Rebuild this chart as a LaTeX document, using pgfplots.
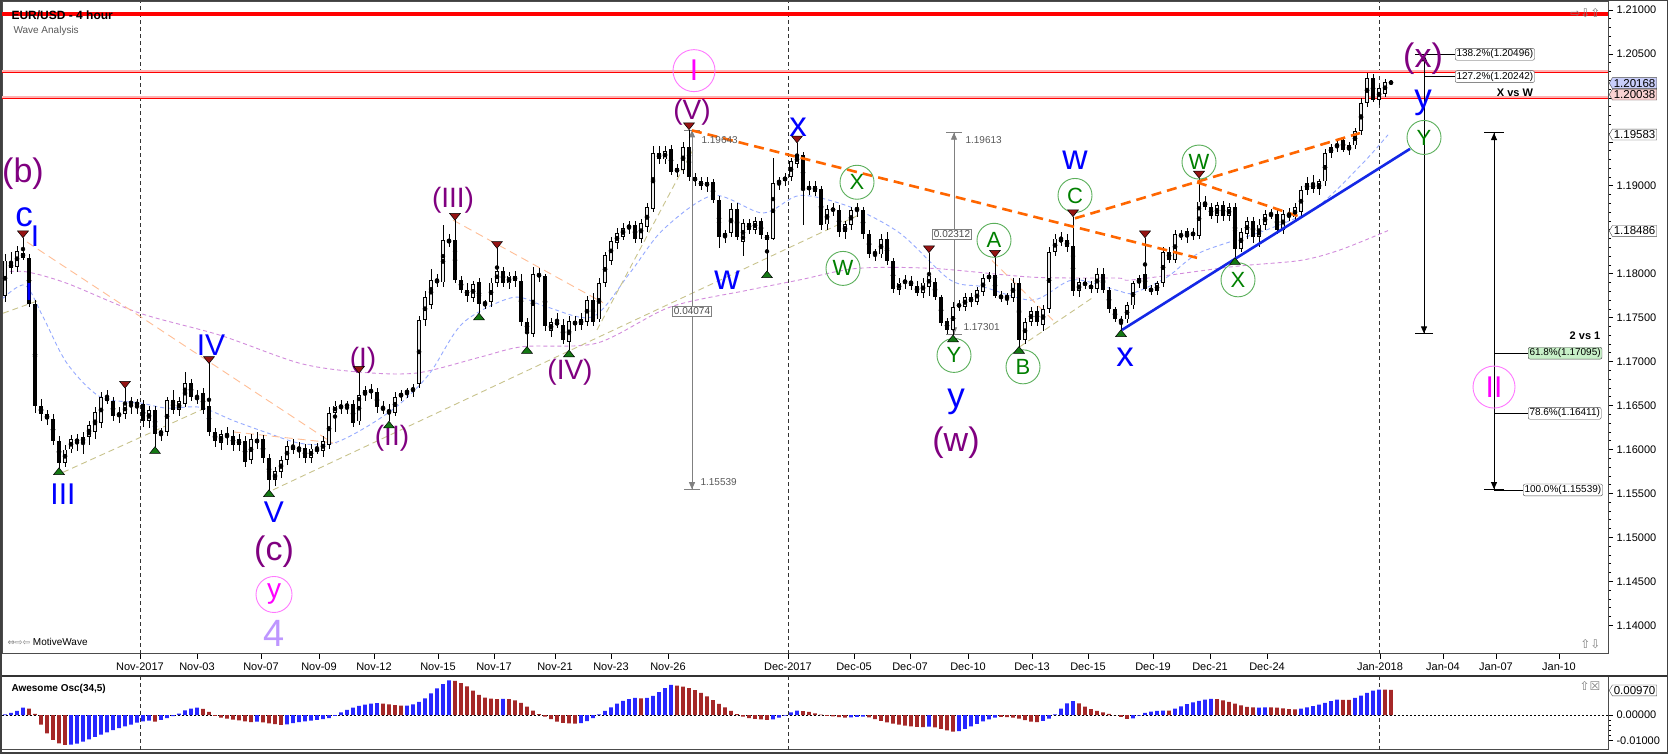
\documentclass[border=0pt]{standalone}
\usepackage{fontspec}
\setmainfont{Liberation Sans}
\newfontfamily\dejavu{DejaVu Sans}
\usepackage{pgfplots}
\pgfplotsset{compat=1.18}
\usepackage{pgfplotstable}
\usetikzlibrary{arrows.meta,shapes.symbols}

\definecolor{wblue}{RGB}{0,0,255}
\definecolor{wpurple}{RGB}{128,0,128}
\definecolor{wmag}{RGB}{255,0,255}
\definecolor{wmagc}{RGB}{255,120,255}
\definecolor{wgreen}{RGB}{0,128,0}
\definecolor{wgreenc}{RGB}{90,175,90}
\definecolor{wlav}{RGB}{190,150,255}
\definecolor{orthick}{RGB}{255,102,0}
\definecolor{orlight}{RGB}{255,190,150}
\definecolor{khaki}{RGB}{200,195,140}
\definecolor{mablue}{RGB}{150,170,255}
\definecolor{mapurple}{RGB}{210,140,220}
\definecolor{aoblue}{RGB}{40,40,255}
\definecolor{aored}{RGB}{165,40,40}
\definecolor{mred}{RGB}{150,20,20}
\definecolor{mgreen}{RGB}{20,120,20}
\definecolor{tblue}{RGB}{20,40,230}
\definecolor{upfill}{RGB}{235,235,235}
\definecolor{mgray}{RGB}{128,128,128}

\newcommand{\fs}[1]{\fontsize{#1}{#1}\selectfont}

% 4 hour candles: x (pixel position), open, high, low, close
\pgfplotstableread{
x o h l c
5 1.1775 1.1822 1.1768 1.1815
11 1.1812 1.1825 1.1800 1.1806
17 1.1808 1.1832 1.1802 1.1826
23 1.1824 1.1841 1.1815 1.1818
29 1.1818 1.1822 1.1762 1.1766
35 1.1766 1.1770 1.1642 1.1650
41 1.1650 1.1658 1.1632 1.1640
47 1.1640 1.1645 1.1628 1.1635
53 1.1635 1.1640 1.1605 1.1610
59 1.1610 1.1615 1.1579 1.1585
65 1.1585 1.1605 1.1580 1.1600
71 1.1600 1.1616 1.1596 1.1612
77 1.1612 1.1618 1.1598 1.1608
83 1.1608 1.1620 1.1595 1.1614
89 1.1614 1.1632 1.1605 1.1628
95 1.1620 1.1648 1.1612 1.1643
101 1.1630 1.1665 1.1625 1.1660
107 1.1660 1.1668 1.1652 1.1655
113 1.1655 1.1660 1.1632 1.1638
119 1.1638 1.1648 1.1630 1.1642
125 1.1640 1.1670 1.1635 1.1652
131 1.1652 1.1660 1.1640 1.1654
137 1.1654 1.1658 1.1640 1.1650
143 1.1652 1.1656 1.1626 1.1632
149 1.1632 1.1650 1.1625 1.1645
155 1.1645 1.1650 1.1603 1.1618
161 1.1618 1.1625 1.1610 1.1621
167 1.1620 1.1660 1.1615 1.1656
173 1.1656 1.1668 1.1640 1.1645
179 1.1645 1.1660 1.1638 1.1655
185 1.1652 1.1688 1.1648 1.1676
191 1.1676 1.1680 1.1655 1.1660
197 1.1660 1.1668 1.1652 1.1657
203 1.1664 1.1670 1.1640 1.1645
209 1.1650 1.1698 1.1615 1.1620
215 1.1620 1.1625 1.1603 1.1610
221 1.1608 1.1622 1.1600 1.1618
227 1.1618 1.1625 1.1605 1.1615
233 1.1615 1.1622 1.1598 1.1605
239 1.1605 1.1618 1.1598 1.1612
245 1.1610 1.1615 1.1580 1.1586
251 1.1588 1.1618 1.1583 1.1612
257 1.1612 1.1620 1.1600 1.1607
263 1.1612 1.1616 1.1585 1.1590
269 1.1590 1.1595 1.1554 1.1565
275 1.1565 1.1580 1.1558 1.1575
281 1.1575 1.1593 1.1568 1.1588
287 1.1588 1.1610 1.1582 1.1604
293 1.1604 1.1612 1.1595 1.1600
299 1.1600 1.1608 1.1590 1.1602
305 1.1602 1.1606 1.1585 1.1590
311 1.1590 1.1606 1.1585 1.1601
317 1.1601 1.1608 1.1595 1.1598
323 1.1598 1.1615 1.1592 1.1610
329 1.1605 1.1648 1.1600 1.1642
335 1.1642 1.1655 1.1620 1.1650
341 1.1650 1.1656 1.1640 1.1648
347 1.1648 1.1655 1.1640 1.1652
353 1.1652 1.1656 1.1625 1.1630
359 1.1632 1.1687 1.1628 1.1662
365 1.1662 1.1672 1.1655 1.1668
371 1.1668 1.1675 1.1658 1.1665
377 1.1665 1.1670 1.1642 1.1648
383 1.1648 1.1655 1.1640 1.1645
389 1.1645 1.1652 1.1632 1.1642
395 1.1642 1.1665 1.1638 1.1660
401 1.1660 1.1668 1.1655 1.1664
407 1.1664 1.1670 1.1658 1.1667
413 1.1667 1.1675 1.1660 1.1670
419 1.1675 1.1752 1.1670 1.1747
425 1.1747 1.1780 1.1740 1.1773
431 1.1765 1.1805 1.1760 1.1793
437 1.1793 1.1800 1.1785 1.1790
443 1.1790 1.1855 1.1785 1.1838
449 1.1838 1.1845 1.1830 1.1836
455 1.1838 1.1861 1.1790 1.1793
461 1.1793 1.1798 1.1778 1.1782
467 1.1782 1.1790 1.1768 1.1775
473 1.1772 1.1792 1.1768 1.1788
479 1.1790 1.1795 1.1755 1.1765
485 1.1765 1.1770 1.1760 1.1768
491 1.1768 1.1795 1.1762 1.1790
497 1.1790 1.1829 1.1785 1.1803
503 1.1803 1.1808 1.1785 1.1789
509 1.1789 1.1802 1.1783 1.1798
515 1.1798 1.1803 1.1785 1.1792
521 1.1792 1.1800 1.1740 1.1745
527 1.1745 1.1750 1.1717 1.1735
533 1.1732 1.1808 1.1728 1.1800
539 1.1800 1.1806 1.1790 1.1797
545 1.1797 1.1800 1.1735 1.1740
551 1.1735 1.1750 1.1728 1.1745
557 1.1745 1.1755 1.1738 1.1742
563 1.1742 1.1748 1.1720 1.1724
569 1.1722 1.1752 1.1713 1.1746
575 1.1746 1.1752 1.1735 1.1742
581 1.1742 1.1755 1.1736 1.1748
587 1.1745 1.1775 1.1740 1.1770
593 1.1770 1.1778 1.1740 1.1745
599 1.1748 1.1795 1.1745 1.1789
605 1.1789 1.1825 1.1785 1.1821
611 1.1815 1.1842 1.1810 1.1837
617 1.1835 1.1852 1.1828 1.1846
623 1.1842 1.1858 1.1838 1.1852
629 1.1852 1.1860 1.1845 1.1855
635 1.1855 1.1860 1.1835 1.1840
641 1.1840 1.1862 1.1835 1.1858
647 1.1853 1.1880 1.1848 1.1876
653 1.1874 1.1945 1.1870 1.1937
659 1.1937 1.1945 1.1925 1.1930
665 1.1930 1.1945 1.1925 1.1940
671 1.1942 1.1946 1.1912 1.1916
677 1.1916 1.1925 1.1910 1.1920
683 1.1918 1.1950 1.1914 1.1944
689 1.1944 1.1964 1.1905 1.1910
695 1.1910 1.1915 1.1900 1.1905
701 1.1905 1.1910 1.1895 1.1900
707 1.1900 1.1910 1.1893 1.1904
713 1.1904 1.1908 1.1880 1.1884
719 1.1884 1.1888 1.1829 1.1842
725 1.1842 1.1850 1.1835 1.1846
731 1.1846 1.1880 1.1842 1.1874
737 1.1874 1.1880 1.1838 1.1842
743 1.1836 1.1862 1.1820 1.1858
749 1.1858 1.1862 1.1845 1.1850
755 1.1850 1.1865 1.1845 1.1860
761 1.1860 1.1863 1.1840 1.1844
767 1.1844 1.1848 1.1803 1.1838
773 1.1840 1.1932 1.1838 1.1903
779 1.1903 1.1910 1.1895 1.1906
785 1.1906 1.1915 1.1900 1.1910
791 1.1910 1.1932 1.1905 1.1928
797 1.1925 1.1949 1.1920 1.1935
803 1.1935 1.1938 1.1855 1.1895
809 1.1895 1.1905 1.1890 1.1900
815 1.1900 1.1905 1.1888 1.1893
821 1.1897 1.1900 1.1850 1.1856
827 1.1856 1.1878 1.1850 1.1874
833 1.1874 1.1880 1.1866 1.1872
839 1.1872 1.1878 1.1842 1.1847
845 1.1847 1.1860 1.1840 1.1856
851 1.1856 1.1876 1.1850 1.1872
857 1.1872 1.1880 1.1865 1.1875
863 1.1872 1.1876 1.1840 1.1845
869 1.1845 1.1850 1.1818 1.1822
875 1.1822 1.1828 1.1815 1.1825
881 1.1822 1.1845 1.1818 1.1839
887 1.1839 1.1848 1.1810 1.1814
893 1.1814 1.1818 1.1778 1.1782
899 1.1782 1.1795 1.1776 1.1790
905 1.1790 1.1798 1.1783 1.1792
911 1.1792 1.1798 1.1782 1.1786
917 1.1786 1.1792 1.1775 1.1778
923 1.1778 1.1795 1.1772 1.1790
929 1.1785 1.1824 1.1775 1.1798
935 1.1790 1.1795 1.1770 1.1773
941 1.1773 1.1776 1.1740 1.1744
947 1.1746 1.1750 1.1732 1.1736
953 1.1736 1.1768 1.1730 1.1762
959 1.1762 1.1770 1.1758 1.1766
965 1.1762 1.1778 1.1758 1.1773
971 1.1773 1.1778 1.1762 1.1768
977 1.1768 1.1785 1.1765 1.1781
983 1.1779 1.1800 1.1775 1.1795
989 1.1795 1.1802 1.1790 1.1798
995 1.1798 1.1819 1.1772 1.1775
1001 1.1775 1.1780 1.1768 1.1772
1007 1.1772 1.1778 1.1765 1.1775
1013 1.1772 1.1795 1.1768 1.1790
1019 1.1790 1.1795 1.1717 1.1725
1025 1.1725 1.1750 1.1720 1.1745
1031 1.1745 1.1762 1.1740 1.1758
1037 1.1758 1.1763 1.1740 1.1745
1043 1.1742 1.1765 1.1735 1.1760
1049 1.1760 1.1830 1.1755 1.1825
1055 1.1825 1.1845 1.1820 1.1840
1061 1.1840 1.1848 1.1832 1.1836
1067 1.1838 1.1845 1.1825 1.1830
1073 1.1832 1.1865 1.1775 1.1780
1079 1.1780 1.1795 1.1774 1.1790
1085 1.1790 1.1795 1.1782 1.1787
1091 1.1787 1.1792 1.1778 1.1783
1097 1.1783 1.1806 1.1778 1.1800
1103 1.1800 1.1806 1.1778 1.1781
1109 1.1781 1.1785 1.1755 1.1760
1115 1.1760 1.1762 1.1745 1.1748
1121 1.1745 1.1752 1.1736 1.1748
1127 1.1748 1.1768 1.1744 1.1764
1133 1.1764 1.1792 1.1760 1.1789
1139 1.1789 1.1798 1.1784 1.1795
1145 1.1800 1.1841 1.1780 1.1783
1151 1.1783 1.1787 1.1776 1.1780
1157 1.1780 1.1792 1.1776 1.1789
1163 1.1789 1.1830 1.1785 1.1825
1169 1.1825 1.1830 1.1812 1.1816
1175 1.1816 1.1850 1.1812 1.1845
1181 1.1845 1.1850 1.1838 1.1842
1187 1.1842 1.1852 1.1835 1.1848
1193 1.1848 1.1852 1.1838 1.1843
1199 1.1843 1.1909 1.1840 1.1882
1205 1.1882 1.1888 1.1872 1.1876
1211 1.1876 1.1880 1.1862 1.1866
1217 1.1866 1.1882 1.1858 1.1878
1223 1.1878 1.1883 1.1860 1.1866
1229 1.1866 1.1880 1.1860 1.1876
1235 1.1876 1.1880 1.1818 1.1828
1241 1.1828 1.1852 1.1825 1.1847
1247 1.1845 1.1865 1.1840 1.1860
1253 1.1860 1.1865 1.1835 1.1842
1259 1.1842 1.1862 1.1830 1.1856
1265 1.1856 1.1872 1.1850 1.1868
1271 1.1868 1.1874 1.1862 1.1866
1277 1.1868 1.1872 1.1845 1.1850
1283 1.1850 1.1872 1.1845 1.1868
1289 1.1868 1.1875 1.1860 1.1864
1295 1.1864 1.1880 1.1860 1.1876
1301 1.1870 1.1900 1.1865 1.1895
1307 1.1895 1.1910 1.1890 1.1903
1313 1.1903 1.1912 1.1892 1.1896
1319 1.1896 1.1908 1.1890 1.1905
1325 1.1905 1.1942 1.1900 1.1937
1331 1.1937 1.1948 1.1932 1.1944
1337 1.1944 1.1952 1.1938 1.1948
1343 1.1952 1.1956 1.1938 1.1941
1349 1.1941 1.1950 1.1935 1.1946
1355 1.1946 1.1966 1.1942 1.1962
1361 1.1962 1.2000 1.1958 1.1994
1367 1.1994 1.2028 1.1990 1.2023
1373 1.2023 1.2027 1.1995 1.1998
1379 1.1998 1.2015 1.1992 1.2011
1385 1.2005 1.2022 1.2001 1.2018
1391 1.2018 1.2020 1.2015 1.2017
}\candles

\tikzset{
  wlab/.style={inner sep=0pt},
  gcirc/.style={circle, draw=wgreenc, line width=0.9pt, minimum size=34pt, inner sep=0pt, text=wgreen, font=\fs{22}},
  mcirc/.style={circle, draw=wmagc, line width=0.9pt, minimum size=42pt, inner sep=0pt, text=wmag, font=\fs{30}},
  fibbox/.style={draw=gray!60!black, fill=white, rounded corners=2pt, font=\fs{10}, inner sep=1.3pt, anchor=west},
  pricebox/.style={shape=signal, signal to=west, signal pointer angle=120, draw=gray!60!black, fill=white, font=\fs{11.5}, inner sep=1.4pt, anchor=west},
  mbox/.style={draw=mgray, fill=white, font=\fs{10}, text=gray!60!black, inner sep=1.5pt},
}

\begin{document}
\begin{tikzpicture}[x=1pt,y=1pt]
\useasboundingbox (0,0) rectangle (1668,754);
\fill[white] (0,0) rectangle (1668,754);

% ---------------- price panel ----------------
\begin{axis}[
  at={(2pt,100pt)}, anchor=south west, scale only axis,
  width=1606pt, height=652pt,
  xmin=2, xmax=1608, ymin=1.13673, ymax=1.21091,
  clip=false,
  axis line style={draw=gray!60!black, line width=1pt},
  tick align=outside, tick style={black, line width=0.6pt},
  major tick length=5pt, minor tick length=3pt,
  xtick pos=bottom,
  xtick={140,197,261,319,374,438,494,555,611,668,788,854,910,968,1032,1088,1153,1210,1267,1380,1443,1496,1559},
  xticklabels={Nov-2017,Nov-03,Nov-07,Nov-09,Nov-12,Nov-15,Nov-17,Nov-21,Nov-23,Nov-26,Dec-2017,Dec-05,Dec-07,Dec-10,Dec-13,Dec-15,Dec-19,Dec-21,Dec-24,Jan-2018,Jan-04,Jan-07,Jan-10},
  x tick label style={font=\fs{11}},
  ytick pos=right, yticklabel pos=right,
  ytick={1.14,1.145,1.15,1.155,1.16,1.165,1.17,1.175,1.18,1.185,1.19,1.195,1.2,1.205,1.21},
  yticklabels={1.14000,1.14500,1.15000,1.15500,1.16000,1.16500,1.17000,1.17500,1.18000,,1.19000,,,1.20500,1.21000},
  minor y tick num=4,
  y tick label style={font=\fs{11}},
  scaled y ticks=false,
]
% month separators
\addplot[gray!40!black, line width=0.8pt, dash pattern=on 4pt off 3pt] coordinates {(140,1.13673) (140,1.21091)};
\addplot[gray!40!black, line width=0.8pt, dash pattern=on 4pt off 3pt] coordinates {(788,1.13673) (788,1.21091)};
\addplot[gray!40!black, line width=0.8pt, dash pattern=on 4pt off 3pt] coordinates {(1379,1.13673) (1379,1.21091)};

% horizontal levels
\addplot[red, line width=4pt] coordinates {(2,1.2095) (1608,1.2095)};
\addplot[red!30, line width=3pt] coordinates {(2,1.2030) (1608,1.2030)};
\addplot[red, line width=1pt] coordinates {(2,1.2029) (1608,1.2029)};
\addplot[red!30, line width=3pt] coordinates {(2,1.2000) (1608,1.2000)};
\addplot[red, line width=1pt] coordinates {(2,1.1999) (1608,1.1999)};

% moving averages
\addplot[mapurple, line width=0.9pt, dash pattern=on 4pt off 3pt, smooth] coordinates {
(3,1.1802) (27,1.1802) (67,1.1789) (140,1.1755) (220,1.1730) (300,1.1698) (360,1.1688)
(417,1.1687) (480,1.1705) (523,1.1717) (597,1.1721) (670,1.1762) (747,1.1781) (800,1.1793)
(857,1.1806) (933,1.1806) (1033,1.1796) (1117,1.1795) (1133,1.1793) (1233,1.1808)
(1300,1.1815) (1340,1.1827) (1388,1.1849)};
\addplot[mablue, line width=0.9pt, dash pattern=on 4pt off 3pt, smooth] coordinates {
(3,1.1772) (25,1.1787) (43,1.1751) (67,1.1698) (100,1.1660) (140,1.1653) (167,1.1647)
(200,1.1648) (233,1.1633) (267,1.1619) (300,1.1607) (333,1.1607) (367,1.1626) (400,1.1652)
(430,1.1687) (463,1.1744) (513,1.1773) (547,1.1762) (593,1.1751) (630,1.1801) (663,1.1850)
(713,1.1889) (763,1.1869) (800,1.1889) (850,1.1876) (900,1.1846) (950,1.1793) (983,1.1785)
(1033,1.1770) (1073,1.1793) (1117,1.1781) (1133,1.1778) (1167,1.1796) (1200,1.1824)
(1267,1.1850) (1317,1.1876) (1363,1.1926) (1388,1.1958)};

% thin trend lines
\addplot[khaki, line width=0.9pt, dash pattern=on 6pt off 4pt] coordinates {(3,1.1755) (40,1.1770)};
\addplot[khaki, line width=0.9pt, dash pattern=on 6pt off 4pt] coordinates {(63,1.1574) (207,1.1648)};
\addplot[khaki, line width=0.9pt, dash pattern=on 6pt off 4pt] coordinates {(273,1.1554) (863,1.1869)};
\addplot[khaki, line width=0.9pt, dash pattern=on 6pt off 4pt] coordinates {(597,1.1736) (693,1.1941)};
\addplot[khaki, line width=0.9pt, dash pattern=on 6pt off 4pt] coordinates {(1020,1.1717) (1093,1.1773)};
\addplot[orlight, line width=0.9pt, dash pattern=on 8pt off 5pt] coordinates {(27,1.1836) (333,1.1607)};
\addplot[orlight, line width=0.9pt, dash pattern=on 8pt off 5pt] coordinates {(233,1.1620) (337,1.1607)};
\addplot[orlight, line width=0.9pt, dash pattern=on 8pt off 5pt] coordinates {(453,1.1861) (603,1.1767)};
\addplot[orlight, line width=0.9pt, dash pattern=on 8pt off 5pt] coordinates {(992,1.1815) (1053,1.1747)};

% measuring tools
\addplot[mgray, line width=0.8pt, arrows={{Bar[width=16pt]Triangle[length=7pt,width=6pt]}-{Triangle[length=7pt,width=6pt]Bar[width=16pt]}}] coordinates {(692,1.1964) (692,1.15539)};
\addplot[mgray, line width=0.8pt, arrows={{Bar[width=16pt]Triangle[length=7pt,width=6pt]}-{Triangle[length=7pt,width=6pt]Bar[width=16pt]}}] coordinates {(954,1.19613) (954,1.17301)};

% candles: wicks, bodies, hollow up bodies
\addplot[only marks, mark=none, error bars/.cd, y dir=both, y explicit, error mark=none,
  error bar style={line width=0.7pt, black, solid}]
  table[x=x, y expr={(\thisrow{h}+\thisrow{l})/2}, y error expr={(\thisrow{h}-\thisrow{l})/2}] {\candles};
\addplot[only marks, mark=none, error bars/.cd, y dir=both, y explicit, error mark=none,
  error bar style={line width=3.4pt, black, solid}]
  table[x=x, y expr={(\thisrow{o}+\thisrow{c})/2}, y error expr={abs(\thisrow{c}-\thisrow{o})/2}] {\candles};
\addplot[only marks, mark=none, error bars/.cd, y dir=both, y explicit, error mark=none,
  error bar style={line width=1.6pt, upfill, solid}]
  table[x=x, y expr={(\thisrow{o}+\thisrow{c})/2}, y error expr={max(0,(\thisrow{c}>\thisrow{o})*((\thisrow{c}-\thisrow{o})/2-0.0001))}] {\candles};

% bold channel lines
\addplot[orthick, line width=2.6pt, dash pattern=on 10pt off 6pt] coordinates {(692,1.1963) (1197,1.1818)};
\addplot[orthick, line width=2.6pt, dash pattern=on 10pt off 6pt] coordinates {(1075,1.1863) (1360,1.1960)};
\addplot[orthick, line width=2.6pt, dash pattern=on 10pt off 6pt] coordinates {(1197,1.1904) (1302,1.1864)};
\addplot[tblue, line width=2.6pt] coordinates {(1122,1.1736) (1410,1.1942)};

% swing markers
\addplot[only marks, mark=triangle*, mark size=4.5pt, mark options={fill=mred, draw=black, line width=0.5pt, rotate=180, xscale=1.4}] coordinates {
(23,1.1846) (125,1.1675) (209,1.1703) (359,1.1692) (455,1.1866) (497,1.1834) (689,1.1969)
(797,1.1954) (929,1.1829) (995,1.1824) (1073,1.1870) (1145,1.1846) (1199,1.1914)};
\addplot[only marks, mark=triangle*, mark size=4.5pt, mark options={fill=mgreen, draw=black, line width=0.5pt, xscale=1.4}] coordinates {
(59,1.1574) (155,1.1598) (269,1.1549) (389,1.1627) (479,1.1750) (527,1.1712) (569,1.1708)
(767,1.1798) (953,1.1725) (1019,1.1712) (1121,1.1731) (1235,1.1813)};

% fib projections on the right
\addplot[black, line width=0.9pt, arrows={{Triangle[length=7pt,width=6pt]}-{Triangle[length=7pt,width=6pt]Bar[width=18pt]}}] coordinates {(1424,1.20496) (1424,1.1731)};
\addplot[black, line width=0.8pt] coordinates {(1415,1.20496) (1455,1.20496)};
\addplot[black, line width=0.8pt] coordinates {(1424,1.20242) (1455,1.20242)};
\addplot[black, line width=0.9pt, arrows={{Bar[width=20pt]Triangle[length=7pt,width=6pt]}-{Triangle[length=7pt,width=6pt]Bar[width=20pt]}}] coordinates {(1494,1.1961) (1494,1.15539)};
\addplot[black, line width=0.8pt] coordinates {(1494,1.17095) (1528,1.17095)};
\addplot[black, line width=0.8pt] coordinates {(1494,1.16411) (1528,1.16411)};
\addplot[black, line width=0.8pt] coordinates {(1494,1.15539) (1523,1.15539)};

% texts
\node[anchor=west, font=\fs{12}\bfseries] at (axis cs:8,1.2094) {EUR/USD - 4 hour};
\node[anchor=west, font=\fs{10}, text=gray!70!black] at (axis cs:10,1.2076) {Wave Analysis};
\node[anchor=west, font=\fs{10}, text=black] at (axis cs:4,1.1381) {{\dejavu\fs{9}\color{gray}⇔⇨⇦} MotiveWave};
\node[anchor=east, font=\fs{12}, text=gray] at (axis cs:1604,1.2097) {\dejavu ⇨⇩⇧};
\node[anchor=east, font=\fs{12}, text=gray] at (axis cs:1604,1.1378) {\dejavu ⇧⇩};

\node[anchor=west, font=\fs{10}, text=gray!70!black] at (axis cs:698,1.1952) {1.19643};
\node[mbox] at (axis cs:692,1.1757) {0.04074};
\node[anchor=west, font=\fs{10}, text=gray!70!black] at (axis cs:697,1.1563) {1.15539};
\node[anchor=west, font=\fs{10}, text=gray!70!black] at (axis cs:962,1.1952) {1.19613};
\node[mbox] at (axis cs:952,1.1845) {0.02312};
\node[anchor=west, font=\fs{10}, text=gray!70!black] at (axis cs:960,1.1739) {1.17301};

\node[fibbox] at (axis cs:1455,1.20496) {138.2\%(1.20496)};
\node[fibbox] at (axis cs:1455,1.20242) {127.2\%(1.20242)};
\node[font=\fs{11}\bfseries] at (axis cs:1515,1.2006) {X vs W};
\node[font=\fs{11}\bfseries] at (axis cs:1585,1.1729) {2 vs 1};
\node[fibbox, fill={rgb,255:red,200;green,240;blue,200}] at (axis cs:1528,1.17095) {61.8\%(1.17095)};
\node[fibbox] at (axis cs:1528,1.16411) {78.6\%(1.16411)};
\node[fibbox] at (axis cs:1523,1.15539) {100.0\%(1.15539)};

% price flags
\node[pricebox, fill={rgb,255:red,200;green,205;blue,250}] at (axis cs:1609,1.20168) {1.20168};
\node[pricebox, fill={rgb,255:red,250;green,210;blue,210}] at (axis cs:1609,1.20038) {1.20038};
\node[pricebox] at (axis cs:1609,1.19583) {1.19583};
\node[pricebox] at (axis cs:1609,1.18486) {1.18486};

% wave labels
\node[wlab, text=wpurple, font=\fs{34}] at (axis cs:23,1.1914) {(b)};
\node[wlab, text=wblue, font=\fs{35}] at (axis cs:24,1.1864) {c};
\node[wlab, text=wblue, font=\fs{30}] at (axis cs:35,1.1843) {I};
\node[wlab, text=wblue, font=\fs{30}] at (axis cs:29,1.1781) {I};
\node[wlab, text=wblue, font=\fs{30}] at (axis cs:63,1.1549) {III};
\node[wlab, text=wblue, font=\fs{30}] at (axis cs:211,1.1719) {IV};
\node[wlab, text=wblue, font=\fs{30}] at (axis cs:274,1.1529) {V};
\node[wlab, text=wpurple, font=\fs{34}] at (axis cs:274,1.1484) {(c)};
\node[mcirc, minimum size=36pt, font=\fs{28}] at (axis cs:274,1.1435) {y};
\node[wlab, text=wlav, font=\fs{38}] at (axis cs:274,1.1391) {4};
\node[wlab, text=wpurple, font=\fs{28}] at (axis cs:363,1.1702) {(I)};
\node[wlab, text=wpurple, font=\fs{28}] at (axis cs:392,1.1613) {(II)};
\node[wlab, text=wpurple, font=\fs{28}] at (axis cs:453,1.1884) {(III)};
\node[wlab, text=wpurple, font=\fs{28}] at (axis cs:570,1.1688) {(IV)};
\node[wlab, text=wpurple, font=\fs{28}] at (axis cs:692,1.1984) {(V)};
\node[mcirc] at (axis cs:694,1.2031) {I};
\node[wlab, text=wblue, font=\fs{35}] at (axis cs:727,1.1793) {w};
\node[wlab, text=wblue, font=\fs{35}] at (axis cs:798,1.1967) {x};
\node[gcirc] at (axis cs:857,1.1904) {X};
\node[gcirc] at (axis cs:843,1.1806) {W};
\node[gcirc] at (axis cs:994,1.1838) {A};
\node[gcirc] at (axis cs:954,1.1707) {Y};
\node[gcirc] at (axis cs:1023,1.1694) {B};
\node[gcirc] at (axis cs:1075,1.1889) {C};
\node[wlab, text=wblue, font=\fs{35}] at (axis cs:1075,1.1929) {w};
\node[wlab, text=wblue, font=\fs{35}] at (axis cs:956,1.1654) {y};
\node[wlab, text=wpurple, font=\fs{34}] at (axis cs:956,1.1608) {(w)};
\node[wlab, text=wblue, font=\fs{35}] at (axis cs:1125,1.1705) {x};
\node[gcirc] at (axis cs:1199,1.1927) {W};
\node[gcirc] at (axis cs:1238,1.1793) {X};
\node[wlab, text=wpurple, font=\fs{34}] at (axis cs:1423,1.2045) {(x)};
\node[wlab, text=wblue, font=\fs{35}] at (axis cs:1423,1.1994) {y};
\node[gcirc] at (axis cs:1424,1.1955) {Y};
\node[mcirc] at (axis cs:1494,1.1671) {II};
\end{axis}

% ---------------- Awesome oscillator panel ----------------
\begin{axis}[
  at={(2pt,4pt)}, anchor=south west, scale only axis,
  width=1606pt, height=74pt,
  xmin=2, xmax=1608, ymin=-0.0138, ymax=0.0154,
  clip=false,
  axis line style={draw=gray!60!black, line width=1pt},
  tick align=outside, tick style={black, line width=0.6pt},
  major tick length=5pt, minor tick length=3pt,
  xtick=\empty,
  ytick pos=right, yticklabel pos=right,
  ytick={-0.01,0}, minor y tick num=4,
  y tick label style={font=\fs{11}, /pgf/number format/fixed, /pgf/number format/fixed zerofill, /pgf/number format/precision=5, /pgf/number format/assume math mode=true},
  scaled y ticks=false,
]
\addplot[gray!40!black, line width=0.8pt, dash pattern=on 4pt off 3pt] coordinates {(140,-0.0138) (140,0.0154)};
\addplot[gray!40!black, line width=0.8pt, dash pattern=on 4pt off 3pt] coordinates {(788,-0.0138) (788,0.0154)};
\addplot[gray!40!black, line width=0.8pt, dash pattern=on 4pt off 3pt] coordinates {(1379,-0.0138) (1379,0.0154)};
\addplot[black, line width=0.7pt, dash pattern=on 2pt off 2pt] coordinates {(2,0) (1608,0)};

\addplot[ybar, bar width=3.6pt, bar shift=0pt, fill=aoblue, draw=none] coordinates {
(5,0.0003) (11,0.0008) (17,0.0016) (23,0.0029) (71,-0.0117) (77,-0.0113) (83,-0.0105)
(89,-0.0096) (95,-0.0086) (101,-0.0077) (107,-0.0068) (113,-0.0060) (119,-0.0052) (125,-0.0045)
(131,-0.0038) (137,-0.0030) (143,-0.0025) (149,-0.0022) (161,-0.0019) (167,-0.0012) (173,-0.0004)
(179,0.0006) (185,0.0018) (191,0.0025) (197,0.0029) (257,-0.0026) (287,-0.0037) (293,-0.0032)
(299,-0.0028) (305,-0.0025) (311,-0.0022) (317,-0.0019) (323,-0.0016) (329,-0.0012) (335,-0.0003)
(341,0.0010) (347,0.0020) (353,0.0029) (359,0.0036) (365,0.0041) (371,0.0045) (377,0.0047)
(407,0.0037) (413,0.0042) (419,0.0052) (425,0.0066) (431,0.0085) (437,0.0105) (443,0.0122)
(449,0.0137) (503,0.0064) (581,-0.0032) (587,-0.0024) (593,-0.0012) (599,0.0003) (605,0.0016)
(611,0.0030) (617,0.0045) (623,0.0056) (629,0.0063) (635,0.0068) (647,0.0068) (653,0.0076)
(659,0.0090) (665,0.0106) (671,0.0119) (773,-0.0017) (779,-0.0010) (785,-0.0002) (791,0.0010)
(797,0.0017) (851,-0.0009) (857,-0.0007) (863,-0.0006) (929,-0.0046) (959,-0.0064) (965,-0.0055)
(971,-0.0045) (977,-0.0035) (983,-0.0025) (989,-0.0017) (995,-0.0010) (1043,-0.0023) (1049,-0.0014)
(1055,0.0003) (1061,0.0025) (1067,0.0046) (1073,0.0055) (1133,-0.0013) (1139,-0.0002) (1145,0.0008)
(1151,0.0013) (1157,0.0016) (1163,0.0017) (1175,0.0025) (1181,0.0034) (1187,0.0043) (1193,0.0050)
(1199,0.0056) (1205,0.0061) (1211,0.0064) (1259,0.0029) (1265,0.0030) (1301,0.0025) (1307,0.0030)
(1313,0.0035) (1319,0.0041) (1325,0.0048) (1331,0.0055) (1337,0.0061) (1355,0.0068) (1361,0.0077)
(1367,0.0087) (1373,0.0096) (1379,0.0100)};
\addplot[ybar, bar width=3.6pt, bar shift=0pt, fill=aored, draw=none] coordinates {
(29,0.0025) (35,0.0005) (41,-0.0038) (47,-0.0072) (53,-0.0098) (59,-0.0112) (65,-0.0118)
(155,-0.0026) (203,0.0024) (209,0.0012) (215,-0.0003) (221,-0.0010) (227,-0.0014) (233,-0.0018)
(239,-0.0021) (245,-0.0025) (251,-0.0028) (263,-0.0029) (269,-0.0033) (275,-0.0036) (281,-0.0039)
(383,0.0045) (389,0.0042) (395,0.0039) (401,0.0037) (455,0.0135) (461,0.0126) (467,0.0113)
(473,0.0096) (479,0.0080) (485,0.0069) (491,0.0065) (497,0.0063) (509,0.0063) (515,0.0058)
(521,0.0048) (527,0.0033) (533,0.0017) (539,0.0004) (545,-0.0006) (551,-0.0016) (557,-0.0026)
(563,-0.0031) (569,-0.0033) (575,-0.0034) (641,0.0066) (677,0.0116) (683,0.0112) (689,0.0106)
(695,0.0098) (701,0.0087) (707,0.0074) (713,0.0059) (719,0.0044) (725,0.0030) (731,0.0016)
(737,0.0004) (743,-0.0006) (749,-0.0012) (755,-0.0015) (761,-0.0017) (767,-0.0019) (803,0.0015)
(809,0.0012) (815,0.0007) (821,0.0002) (827,-0.0003) (833,-0.0005) (839,-0.0008) (845,-0.0010)
(869,-0.0009) (875,-0.0016) (881,-0.0023) (887,-0.0029) (893,-0.0034) (899,-0.0038) (905,-0.0042)
(911,-0.0045) (917,-0.0047) (923,-0.0048) (935,-0.0049) (941,-0.0055) (947,-0.0061) (953,-0.0066)
(1001,-0.0007) (1007,-0.0008) (1013,-0.0010) (1019,-0.0014) (1025,-0.0020) (1031,-0.0026) (1037,-0.0028)
(1079,0.0046) (1085,0.0033) (1091,0.0023) (1097,0.0016) (1103,0.0010) (1109,0.0005) (1115,0.0000)
(1121,-0.0007) (1127,-0.0015) (1169,0.0017) (1217,0.0063) (1223,0.0058) (1229,0.0052) (1235,0.0045)
(1241,0.0038) (1247,0.0032) (1253,0.0030) (1271,0.0030) (1277,0.0029) (1283,0.0026) (1289,0.0023)
(1295,0.0022) (1343,0.0060) (1349,0.0060) (1385,0.0100) (1391,0.0099)};

\node[anchor=west, font=\fs{10}\bfseries] at (axis cs:8,0.0104) {Awesome Osc(34,5)};
\node[anchor=east, font=\fs{12}, text=gray] at (axis cs:1604,0.0115) {\dejavu ⇧☒};
\node[pricebox] at (axis cs:1609,0.0097) {0.00970};
\end{axis}

% window frame
\draw[gray!40!black, line width=1.5pt] (0,78) -- (1668,78);
\draw[gray!50!black, line width=3pt] (0,0) rectangle (1668,754);
\end{tikzpicture}
\end{document}
